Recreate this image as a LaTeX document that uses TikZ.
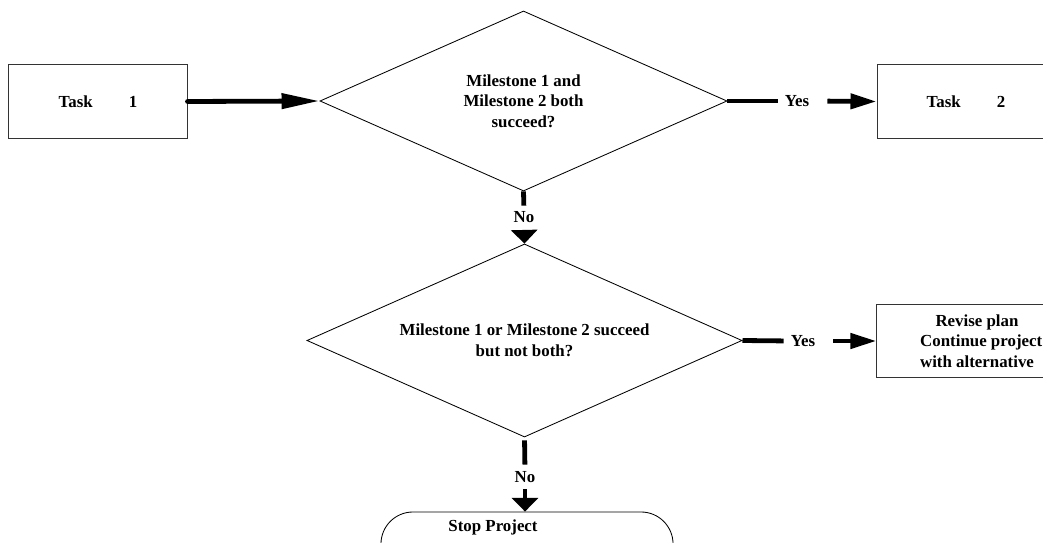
\documentclass[tikz,border=0pt]{standalone}
\usepackage{fontspec}
\setmainfont{Liberation Serif}
\usetikzlibrary{arrows.meta,shapes.geometric}

\begin{document}
\begin{tikzpicture}[
  x=0.025cm, y=-0.025cm,
  font=\fontsize{12}{14.6}\selectfont\bfseries,
  taskbox/.style={draw=black!80, line width=0.7pt, rectangle,
                  minimum width=4.45cm, minimum height=1.825cm, align=center},
  decision/.style={draw=black, line width=0.6pt, diamond, aspect=2.26,
                   inner sep=0pt, align=center},
  terminal/.style={draw=black, line width=0.6pt, rectangle,
                   rounded corners=0.8cm,
                   minimum width=7.3cm, minimum height=2.2cm},
  lab/.style={inner sep=0pt},
  flow/.style={line width=0.12cm},
  bigtip/.style={-{Triangle[length=0.95cm, width=0.37cm]}},
  sidetip/.style={-{Triangle[length=0.65cm, width=0.37cm]}},
  downtip/.style={-{Triangle[length=0.34cm, width=0.65cm]}},
  ]
\useasboundingbox (0,0) rectangle (1043,543);

% ---- Nodes ------------------------------------------------------------------
\node[taskbox] (task1) at (98,101.5) {Task\hspace{0.9cm}1};
\node[decision, minimum width=10.175cm, minimum height=4.5cm] (dec1)
  at (523.5,101) {Milestone 1 and\\Milestone 2 both\\succeed?};
\node[taskbox] (task2) at (966,101.5) {Task\hspace{0.9cm}2};

\node[decision, minimum width=10.875cm, minimum height=4.825cm] (dec2)
  at (524.5,340.5) {Milestone 1 or Milestone 2 succeed\\but not both?};
\node[taskbox, minimum width=5cm, minimum height=1.8cm] (revise) at (977,341)
  {Revise plan\\\ \ Continue project\\with alternative};

\node[terminal] (stop) at (527,556) {};
\node[lab] (stoptxt) at (493,527) {Stop Project};

% labels on the connectors
\node[lab] (yes1) at (797,101) {Yes};
\node[lab] (yes2) at (803,341) {Yes};
\node[lab] (no1) at (524,217.5) {No};
\node[lab] (no2) at (525,477.5) {No};

% ---- Connectors -------------------------------------------------------------
\draw[flow, bigtip, line cap=round] (task1.east) -- (dec1.west);

\draw[flow, shorten >=0.175cm] (dec1.east) -- (yes1.west);
\draw[flow, sidetip, shorten <=0.45cm] (yes1.east) -- (task2.west);

\draw[flow, shorten >=0.15cm] (dec1.south) -- (no1.north);
\draw[flow, downtip, shorten <=0.175cm] (no1.south) -- (dec2.north);

\draw[flow, shorten <=0.075cm, shorten >=0.175cm] (dec2.south) -- (no2.north);
\draw[flow, downtip, shorten <=0.15cm] (no2.south) -- (no2.south |- stop.north);

\draw[flow, shorten >=0.175cm] (dec2.east) -- (yes2.west);
\draw[flow, sidetip, shorten <=0.45cm] (yes2.east) -- (revise.west);

\end{tikzpicture}
\end{document}
